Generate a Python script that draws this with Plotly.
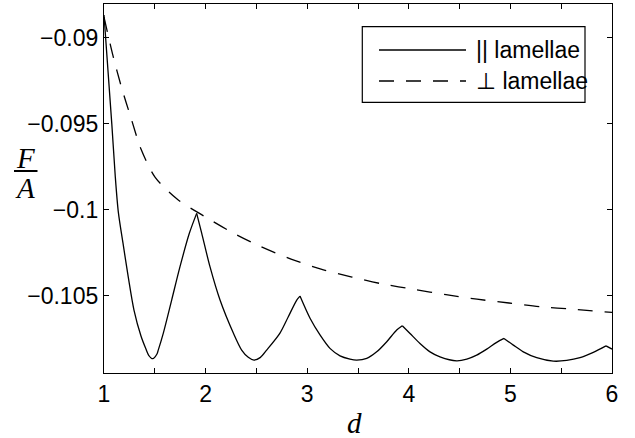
import plotly.graph_objects as go

# || lamellae (solid)
par_d = [1.000, 1.077, 1.110, 1.141, 1.190, 1.239, 1.295, 1.364, 1.413, 1.440, 1.480, 1.520, 1.534,
         1.584, 1.666, 1.748, 1.840, 1.912,
         1.962, 2.043, 2.142, 2.273, 2.355, 2.420, 2.476, 2.540, 2.601, 2.732, 2.814, 2.897, 2.929,
         3.028, 3.126, 3.224, 3.323, 3.421, 3.487, 3.586, 3.684, 3.783, 3.881, 3.936,
         4.012, 4.110, 4.209, 4.307, 4.471, 4.571, 4.668, 4.767, 4.865, 4.937,
         5.029, 5.127, 5.259, 5.422, 5.554, 5.685, 5.816, 5.941, 6.000]
par_F = [-0.08868, -0.09502, -0.09799, -0.10014, -0.10206, -0.10392, -0.10583, -0.10734, -0.10810, -0.10846, -0.10866, -0.10840, -0.10816,
         -0.10717, -0.10525, -0.10331, -0.10137, -0.10021,
         -0.10137, -0.10331, -0.10525, -0.10717, -0.10816, -0.10858, -0.10874, -0.10858, -0.10816, -0.10717, -0.10622, -0.10525, -0.10502,
         -0.10631, -0.10728, -0.10806, -0.10849, -0.10868, -0.10874, -0.10864, -0.10826, -0.10767, -0.10699, -0.10674,
         -0.10719, -0.10777, -0.10826, -0.10855, -0.10878, -0.10868, -0.10845, -0.10810, -0.10771, -0.10748,
         -0.10787, -0.10826, -0.10860, -0.10880, -0.10876, -0.10860, -0.10829, -0.10791, -0.10810]

# ⊥ lamellae (dashed)
perp_d = [1.000, 1.089, 1.174, 1.266, 1.364, 1.502, 1.719, 1.984, 2.265, 2.545, 2.841, 3.136,
          3.441, 3.746, 4.051, 4.366, 4.671, 4.986, 5.301, 5.611, 6.000]
perp_F = [-0.08880, -0.09106, -0.09292, -0.09467, -0.09647, -0.09810, -0.09938, -0.10037, -0.10133,
          -0.10215, -0.10287, -0.10345, -0.10391, -0.10432, -0.10463, -0.10494, -0.10520, -0.10542,
          -0.10564, -0.10578, -0.10597]

x_tickvals = [1, 1.5, 2, 2.5, 3, 3.5, 4, 4.5, 5, 5.5, 6]
x_ticktext = ["1", "", "2", "", "3", "", "4", "", "5", "", "6"]
y_tickvals = [-0.09, -0.095, -0.1, -0.105]
y_ticktext = ["\u22120.09", "\u22120.095", "\u22120.1", "\u22120.105"]
legend_labels = ["|| lamellae", "\u22a5 lamellae"]

LW = 1.3
DASH = "15px,12px"
tickfont = dict(family="Liberation Sans, Arial, sans-serif", size=23, color="black")
serif = "Liberation Serif, Times New Roman, serif"

fig = go.Figure()

# split the solid curve at its cusps (local maxima) so each arch is smoothed on its own
cusps = [i for i in range(1, len(par_F) - 1) if par_F[i] > par_F[i - 1] and par_F[i] > par_F[i + 1]]
bounds = [0] + cusps + [len(par_F) - 1]
for k in range(len(bounds) - 1):
    a, b = bounds[k], bounds[k + 1]
    fig.add_trace(go.Scatter(x=par_d[a:b + 1], y=par_F[a:b + 1], mode="lines",
                             name=legend_labels[0], legendgroup="par", showlegend=False,
                             line=dict(color="black", width=LW, shape="spline", smoothing=0.8)))
fig.add_trace(go.Scatter(x=perp_d, y=perp_F, mode="lines", name=legend_labels[1],
                         line=dict(color="black", width=LW, dash=DASH, shape="spline",
                                   smoothing=0.8), showlegend=False))

axis_common = dict(showgrid=False, zeroline=False, showline=True, linecolor="black",
                   linewidth=1.3, mirror="ticks", ticks="inside", ticklen=5,
                   tickwidth=1, tickcolor="black", tickfont=tickfont)

fig.update_xaxes(range=[1, 6], tickmode="array", tickvals=x_tickvals, ticktext=x_ticktext,
                 **axis_common)
fig.update_yaxes(range=[-0.10949, -0.08804], tickmode="array", tickvals=y_tickvals,
                 ticktext=y_ticktext, **axis_common)

W, H = 635, 438
L, R, T, B = 104, 23, 4, 65
pw, ph = W - L - R, H - T - B


def px(xp):
    return (xp - L) / pw


def py(yp):
    return (H - B - yp) / ph


shapes = []
annotations = []
# custom legend
shapes.append(dict(type="rect", xref="paper", yref="paper",
                   x0=px(362.3), x1=px(585), y0=py(102.3), y1=py(26.7),
                   line=dict(color="black", width=1.2), fillcolor="white", layer="above"))
shapes.append(dict(type="line", xref="paper", yref="paper", x0=px(379), x1=px(466),
                   y0=py(50), y1=py(50), line=dict(color="black", width=LW)))
shapes.append(dict(type="line", xref="paper", yref="paper", x0=px(379), x1=px(466),
                   y0=py(81), y1=py(81), line=dict(color="black", width=LW, dash=DASH)))
for label, yy in zip(legend_labels, [50, 81]):
    annotations.append(dict(text=label, xref="paper", yref="paper", x=px(474), y=py(yy),
                            xanchor="left", yanchor="middle", showarrow=False,
                            font=dict(family="Liberation Sans, Arial, sans-serif", size=23,
                                      color="black")))
# y label fraction F/A
annotations.append(dict(text="<i>F</i>", xref="paper", yref="paper", x=px(25), y=py(158),
                        xanchor="center", yanchor="middle", showarrow=False,
                        font=dict(family=serif, size=29, color="black")))
annotations.append(dict(text="<i>A</i>", xref="paper", yref="paper", x=px(25), y=py(188),
                        xanchor="center", yanchor="middle", showarrow=False,
                        font=dict(family=serif, size=29, color="black")))
shapes.append(dict(type="line", xref="paper", yref="paper", x0=px(14), x1=px(37.5),
                   y0=py(171), y1=py(171), line=dict(color="black", width=2)))
# x label
annotations.append(dict(text="<i>d</i>", xref="paper", yref="paper", x=px(354), y=py(423),
                        xanchor="center", yanchor="middle", showarrow=False,
                        font=dict(family=serif, size=29, color="black")))

fig.update_layout(width=W, height=H, margin=dict(l=L, r=R, t=T, b=B),
                  plot_bgcolor="white", paper_bgcolor="white",
                  shapes=shapes, annotations=annotations, showlegend=False)

fig.write_html("out.html")
